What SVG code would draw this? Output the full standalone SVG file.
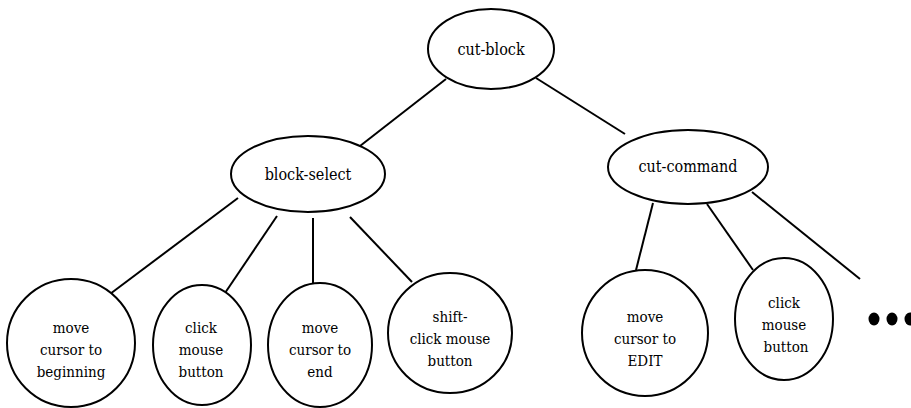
<svg xmlns="http://www.w3.org/2000/svg" width="911" height="408" viewBox="0 0 911 408">
  <style>
    .node { fill: #fff; stroke: #000; stroke-width: 2; }
    .edge { stroke: #000; stroke-width: 2; fill: none; }
    text { font-family: "DejaVu Serif Condensed", "DejaVu Serif", serif; fill: #000; text-anchor: middle; }
    .big { font-size: 16px; }
    .small { font-size: 15px; }
  </style>
  <rect width="911" height="408" fill="#fff"/>
  <g id="connectors">
    <line class="edge" x1="446" y1="79" x2="360" y2="146"/>
    <line class="edge" x1="536" y1="78" x2="625" y2="134"/>
    <line class="edge" x1="238" y1="198" x2="110" y2="294"/>
    <line class="edge" x1="277" y1="216" x2="225" y2="293"/>
    <line class="edge" x1="313" y1="218" x2="313" y2="283"/>
    <line class="edge" x1="350" y1="217" x2="412" y2="282"/>
    <line class="edge" x1="653" y1="203" x2="636" y2="270"/>
    <line class="edge" x1="707" y1="204" x2="753" y2="270"/>
    <line class="edge" x1="752" y1="192" x2="860" y2="279"/>
  </g>
  <g id="cut-block">
    <ellipse class="node" cx="491" cy="49" rx="63" ry="40"/>
    <text class="big" x="491" y="55">cut-block</text>
  </g>
  <g id="block-select">
    <ellipse class="node" cx="308" cy="174" rx="77" ry="38"/>
    <text class="big" x="308" y="180">block-select</text>
  </g>
  <g id="cut-command">
    <ellipse class="node" cx="688" cy="167" rx="80" ry="37"/>
    <text class="big" x="688" y="172">cut-command</text>
  </g>
  <g id="move-to-beginning" class="small">
    <ellipse class="node" cx="71" cy="343" rx="64" ry="64"/>
    <text x="71" y="333">move</text>
    <text x="71" y="355">cursor to</text>
    <text x="71" y="377">beginning</text>
  </g>
  <g id="click-mouse-1" class="small">
    <ellipse class="node" cx="202" cy="345" rx="49" ry="60"/>
    <text x="201" y="333">click</text>
    <text x="201" y="355">mouse</text>
    <text x="201" y="377">button</text>
  </g>
  <g id="move-to-end" class="small">
    <ellipse class="node" cx="320" cy="345" rx="52" ry="62"/>
    <text x="320" y="333">move</text>
    <text x="320" y="355">cursor to</text>
    <text x="320" y="377">end</text>
  </g>
  <g id="shift-click" class="small">
    <ellipse class="node" cx="450" cy="333" rx="62" ry="60"/>
    <text x="450" y="322">shift-</text>
    <text x="450" y="344">click mouse</text>
    <text x="450" y="366">button</text>
  </g>
  <g id="move-to-edit" class="small">
    <ellipse class="node" cx="645" cy="333" rx="63" ry="63"/>
    <text x="645" y="322">move</text>
    <text x="645" y="344">cursor to</text>
    <text x="645" y="366">EDIT</text>
  </g>
  <g id="click-mouse-2" class="small">
    <ellipse class="node" cx="784" cy="319" rx="49" ry="61"/>
    <text x="784" y="308">click</text>
    <text x="784" y="330">mouse</text>
    <text x="786" y="352">button</text>
  </g>
  <g id="ellipsis">
    <ellipse cx="874" cy="319" rx="5.5" ry="6.5" fill="#000"/>
    <ellipse cx="892" cy="319" rx="5.5" ry="6.5" fill="#000"/>
    <ellipse cx="910" cy="319" rx="5.5" ry="6.5" fill="#000"/>
  </g>
</svg>
